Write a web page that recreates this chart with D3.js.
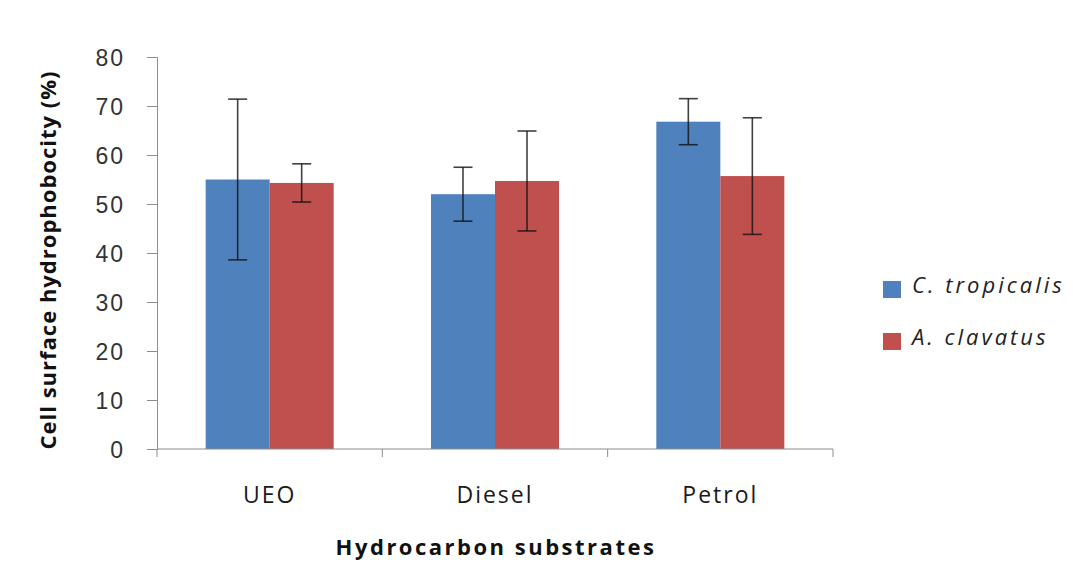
<!DOCTYPE html>
<html>
<head>
<meta charset="utf-8">
<script src="https://cdn.jsdelivr.net/npm/d3@7"></script>
<style>
  body { margin: 0; background: #fff; }
  svg { font-family: "Open Sans", "Liberation Sans", sans-serif; }
</style>
</head>
<body>
<svg id="chart" width="1074" height="574"></svg>
<script>
// data
const categories = ['UEO', 'Diesel', 'Petrol'];
const seriesNames = ['C. tropicalis', 'A. clavatus'];
const tropicalisMean = [55.0, 52.0, 66.8];
const tropicalisErr = [16.4, 5.5, 4.7];
const clavatusMean = [54.3, 54.7, 55.7];
const clavatusErr = [3.9, 10.2, 11.9];
const yTicks = [0, 10, 20, 30, 40, 50, 60, 70, 80];

const colors = ['#4F81BD', '#C0504D'];   // excel 2007 palette
const axisColor = '#8c8c8c';

const svg = d3.select('#chart');
const margin = { top: 57, left: 157, right: 241, bottom: 125 };
const width = 1074, height = 574;

const x = d3.scaleBand(categories, [margin.left, width - margin.right]);
const xSub = d3.scaleBand(seriesNames, [0, x.bandwidth()]).paddingOuter(0.76);
const y = d3.scaleLinear([0, 80], [height - margin.bottom, margin.top]);

const rows = categories.map((c, i) => ({
  cat: c,
  vals: [
    { s: seriesNames[0], v: tropicalisMean[i], e: tropicalisErr[i] },
    { s: seriesNames[1], v: clavatusMean[i], e: clavatusErr[i] }
  ]
}));

// y axis
const yAxis = svg.append('g')
  .attr('transform', `translate(${margin.left},0)`)
  .call(d3.axisLeft(y).tickValues(yTicks).tickSize(10).tickPadding(22));
yAxis.select('.domain').attr('stroke', axisColor);
yAxis.selectAll('.tick line').attr('stroke', axisColor);
yAxis.selectAll('.tick text')
  .attr('fill', '#333')
  .attr('dy', '0.36em')
  .style('font-size', '23px')
  .style('letter-spacing', '2px');

// bars
const groups = svg.append('g')
  .selectAll('g')
  .data(rows)
  .join('g')
    .attr('transform', d => `translate(${x(d.cat)},0)`);

groups.selectAll('rect')
  .data(d => d.vals)
  .join('rect')
    .attr('x', d => xSub(d.s))
    .attr('y', d => y(d.v))
    .attr('width', xSub.bandwidth())
    .attr('height', d => y(0) - y(d.v))
    .attr('fill', (d, i) => colors[i]);

// error bars
const cap = 9.5;
const errs = groups.selectAll('g.err')
  .data(d => d.vals)
  .join('g')
    .attr('class', 'err')
    .attr('stroke', '#111')
    .attr('stroke-opacity', 0.8)
    .attr('stroke-width', 1.6);
errs.append('line')
  .attr('x1', d => xSub(d.s) + xSub.bandwidth() / 2)
  .attr('x2', d => xSub(d.s) + xSub.bandwidth() / 2)
  .attr('y1', d => y(d.v + d.e))
  .attr('y2', d => y(d.v - d.e));
errs.selectAll('line.cap')
  .data(d => [d.v + d.e, d.v - d.e].map(t => ({ t, cx: xSub(d.s) + xSub.bandwidth() / 2 })))
  .join('line')
    .attr('class', 'cap')
    .attr('x1', d => d.cx - cap)
    .attr('x2', d => d.cx + cap)
    .attr('y1', d => y(d.t))
    .attr('y2', d => y(d.t));

// x axis
const x0 = y(0);
svg.append('line')
  .attr('x1', margin.left).attr('x2', width - margin.right)
  .attr('y1', x0).attr('y2', x0)
  .attr('stroke', axisColor);
svg.append('g')
  .selectAll('line')
  .data(categories.map(c => x(c)).concat([x(categories[categories.length - 1]) + x.bandwidth()]))
  .join('line')
    .attr('x1', d => d).attr('x2', d => d)
    .attr('y1', x0).attr('y2', x0 + 8)
    .attr('stroke', axisColor);
svg.append('g')
  .selectAll('text')
  .data(categories)
  .join('text')
    .attr('x', d => x(d) + x.bandwidth() / 2)
    .attr('y', 503)
    .attr('text-anchor', 'middle')
    .attr('fill', '#1a1a1a')
    .style('font-size', '23px')
    .style('letter-spacing', '2px')
    .text(d => d);

// axis titles
svg.append('text')
  .attr('x', (margin.left + width - margin.right) / 2 + 1)
  .attr('y', 555)
  .attr('text-anchor', 'middle')
  .attr('font-weight', 'bold')
  .attr('fill', '#111')
  .style('font-size', '22px')
  .style('letter-spacing', '2.5px')
  .text('Hydrocarbon substrates');
svg.append('text')
  .attr('transform', `translate(56,260) rotate(-90)`)
  .attr('text-anchor', 'middle')
  .attr('font-weight', 'bold')
  .attr('fill', '#111')
  .style('font-size', '22px')
  .style('letter-spacing', '1px')
  .text('Cell surface hydrophobocity (%)');

// legend
const legend = svg.append('g')
  .selectAll('g')
  .data(seriesNames)
  .join('g')
    .attr('transform', (d, i) => `translate(883,${281 + i * 52})`);
legend.append('rect')
  .attr('x', 0).attr('y', 0)
  .attr('width', 18).attr('height', 17)
  .attr('fill', (d, i) => colors[i]);
legend.append('text')
  .attr('x', 29)
  .attr('y', 12)
  .attr('font-style', 'italic')
  .attr('fill', '#222')
  .style('font-size', '22px')
  .style('letter-spacing', '3px')
  .text(d => d);
</script>
</body>
</html>
